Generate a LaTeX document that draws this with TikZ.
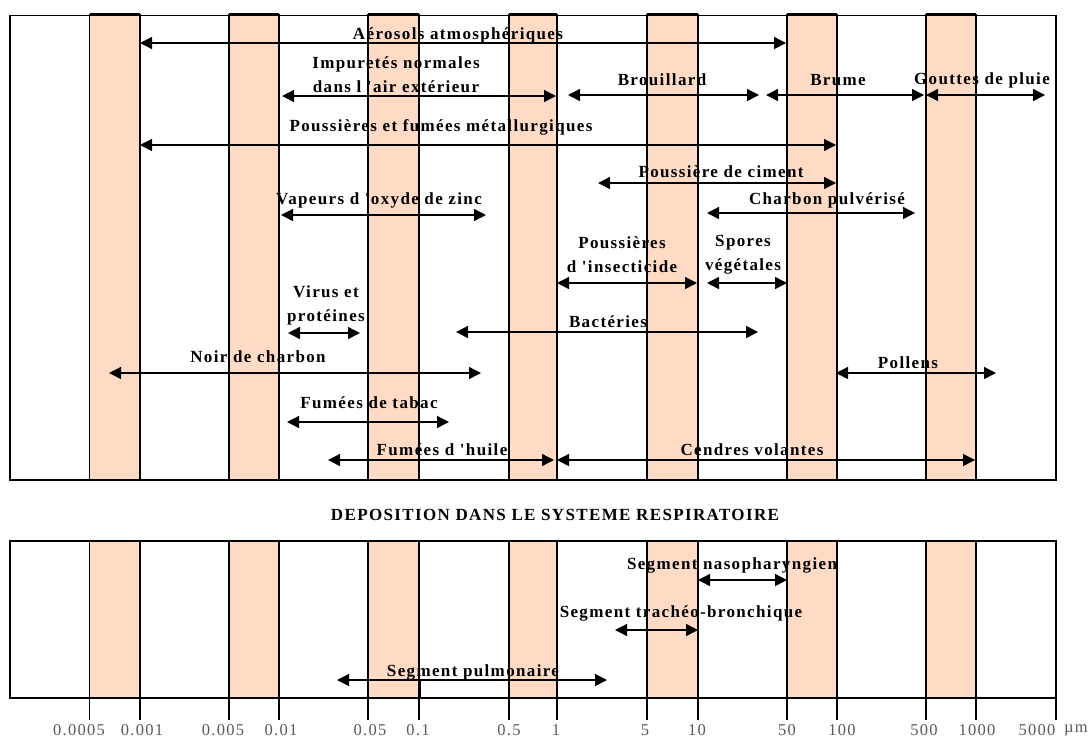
\documentclass[tikz,border=0pt]{standalone}
\usepackage{fontspec}
\setmainfont{Liberation Serif}
\newfontfamily\labfont[LetterSpace=8]{Liberation Serif}
\usetikzlibrary{arrows.meta}
\definecolor{bande}{RGB}{255,219,198}
\tikzset{
	lab/.style={font=\labfont\bfseries\fontsize{17}{24}\selectfont, inner sep=0pt, align=center},
	echelle/.style={font=\labfont\fontsize{16.5}{19}\selectfont, text=black!65, inner sep=0pt},
	fl/.style={<->, line width=1.4pt},
	bord/.style={line width=1.5pt},
	bandeb/.style={fill=bande, draw=black, line width=1.1pt},
	barre/.style={line width=3pt},
	tic/.style={line width=1.1pt}
}
\begin{document}
\begin{tikzpicture}[x=1pt,y=-1pt,>={Triangle[length=12pt,width=12pt]}]
	\useasboundingbox (0,0) rectangle (1091,740);
		% bandes du haut
		\draw[bandeb] (89.5,15) rectangle (140,480);
		\draw[bandeb] (229,15) rectangle (279,480);
		\draw[bandeb] (368,15) rectangle (419,480);
		\draw[bandeb] (509,15) rectangle (557,480);
		\draw[bandeb] (647,15) rectangle (698,480);
		\draw[bandeb] (787,15) rectangle (837,480);
		\draw[bandeb] (926,15) rectangle (976,480);
		\draw[bord] (10,15.5) rectangle (1056,480);
		\draw[barre] (89.5,14) -- (140,14);
		\draw[barre] (229,14) -- (279,14);
		\draw[barre] (368,14) -- (419,14);
		\draw[barre] (509,14) -- (557,14);
		\draw[barre] (647,14) -- (698,14);
		\draw[barre] (787,14) -- (837,14);
		\draw[barre] (926,14) -- (976,14);
		% bandes du bas
		\draw[bandeb] (89.5,541) rectangle (140,698);
		\draw[bandeb] (229,541) rectangle (279,698);
		\draw[bandeb] (368,541) rectangle (419,698);
		\draw[bandeb] (509,541) rectangle (557,698);
		\draw[bandeb] (647,541) rectangle (698,698);
		\draw[bandeb] (787,541) rectangle (837,698);
		\draw[bandeb] (926,541) rectangle (976,698);
		\draw[bord] (10,541) rectangle (1056,698);
		\draw[tic] (89.5,698) -- (89.5,720);
		\draw[tic] (140,698) -- (140,720);
		\draw[tic] (229,698) -- (229,720);
		\draw[tic] (279,698) -- (279,720);
		\draw[tic] (368,698) -- (368,720);
		\draw[tic] (419,698) -- (419,720);
		\draw[tic] (509,698) -- (509,720);
		\draw[tic] (557,698) -- (557,720);
		\draw[tic] (647,698) -- (647,720);
		\draw[tic] (698,698) -- (698,720);
		\draw[tic] (787,698) -- (787,720);
		\draw[tic] (837,698) -- (837,720);
		\draw[tic] (926,698) -- (926,720);
		\draw[tic] (976,698) -- (976,720);
		\draw[tic] (1056,698) -- (1056,720);
		\draw[barre] (419,679) -- (419,698);

		\node[lab] (aero) at (458,35) {Aérosols atmosphériques};
		\node[lab] (impur) at (396,75) {Impuretés normales\\dans l 'air extérieur};
		\node[lab] (brouil) at (662,80) {Brouillard};
		\node[lab] (brume) at (838,80) {Brume};
		\node[lab] (gouttes) at (982,80) {Gouttes de pluie};
		\node[lab] (metal) at (441,127) {Poussières et fumées métallurgiques};
		\node[lab] (ciment) at (721,172) {Poussière de ciment};
		\node[lab] (zinc) at (379,200) {Vapeurs d 'oxyde de zinc};
		\node[lab] (charbon) at (827,200) {Charbon pulvérisé};
		\node[lab] (insect) at (622,255) {Poussières\\d 'insecticide};
		\node[lab] (spores) at (743,255) {Spores\\végétales};
		\node[lab] (virus) at (326,305) {Virus et\\protéines};
		\node[lab] (bact) at (608,322) {Bactéries};
		\node[lab] (noir) at (258,357) {Noir de charbon};
		\node[lab] (pollen) at (908,363) {Pollens};
		\node[lab] (tabac) at (369,403) {Fumées de tabac};
		\node[lab] (huile) at (442,450) {Fumées d 'huile};
		\node[lab] (cendres) at (752,450) {Cendres volantes};
		\node[lab] (titre) at (555,515) {DEPOSITION DANS LE SYSTEME RESPIRATOIRE};
		\node[lab] (naso) at (732,565) {Segment nasopharyngien};
		\node[lab] (trach) at (681,613) {Segment trachéo-bronchique};
		\node[lab] (pulm) at (473,672) {Segment pulmonaire};

		\coordinate (aeroG) at (140,43);
		\coordinate (aeroD) at (786,43);
		\coordinate (impurG) at (282,96);
		\coordinate (impurD) at (556,96);
		\coordinate (brouilG) at (568,95);
		\coordinate (brouilD) at (759,95);
		\coordinate (brumeG) at (766,95);
		\coordinate (brumeD) at (924,95);
		\coordinate (gouttesG) at (926,95);
		\coordinate (gouttesD) at (1045,95);
		\coordinate (metalG) at (140,145);
		\coordinate (metalD) at (836,145);
		\coordinate (cimentG) at (598,183);
		\coordinate (cimentD) at (836,183);
		\coordinate (zincG) at (281,215);
		\coordinate (zincD) at (486,215);
		\coordinate (charbonG) at (707,213);
		\coordinate (charbonD) at (915,213);
		\coordinate (insectG) at (557,283);
		\coordinate (insectD) at (697,283);
		\coordinate (sporesG) at (707,283);
		\coordinate (sporesD) at (787,283);
		\coordinate (virusG) at (288,333);
		\coordinate (virusD) at (360,333);
		\coordinate (bactG) at (456,332);
		\coordinate (bactD) at (758,332);
		\coordinate (noirG) at (109,373);
		\coordinate (noirD) at (481,373);
		\coordinate (pollenG) at (836,373);
		\coordinate (pollenD) at (996,373);
		\coordinate (tabacG) at (287,422);
		\coordinate (tabacD) at (449,422);
		\coordinate (huileG) at (328,460);
		\coordinate (huileD) at (554,460);
		\coordinate (cendresG) at (557,460);
		\coordinate (cendresD) at (975,460);
		\coordinate (nasoG) at (698,580);
		\coordinate (nasoD) at (787,580);
		\coordinate (trachG) at (615,630);
		\coordinate (trachD) at (698,630);
		\coordinate (pulmG) at (337,680);
		\coordinate (pulmD) at (607,680);

		\path[fl] (aeroG) edge (aeroD);
		\path[fl] (impurG) edge (impurD);
		\path[fl] (brouilG) edge (brouilD);
		\path[fl] (brumeG) edge (brumeD);
		\path[fl] (gouttesG) edge (gouttesD);
		\path[fl] (metalG) edge (metalD);
		\path[fl] (cimentG) edge (cimentD);
		\path[fl] (zincG) edge (zincD);
		\path[fl] (charbonG) edge (charbonD);
		\path[fl] (insectG) edge (insectD);
		\path[fl] (sporesG) edge (sporesD);
		\path[fl] (virusG) edge (virusD);
		\path[fl] (bactG) edge (bactD);
		\path[fl] (noirG) edge (noirD);
		\path[fl] (pollenG) edge (pollenD);
		\path[fl] (tabacG) edge (tabacD);
		\path[fl] (huileG) edge (huileD);
		\path[fl] (cendresG) edge (cendresD);
		\path[fl] (nasoG) edge (nasoD);
		\path[fl] (trachG) edge (trachD);
		\path[fl] (pulmG) edge (pulmD);

		\node[echelle] (e1) at (79,730) {0.0005};
		\node[echelle] (e2) at (142,730) {0.001};
		\node[echelle] (e3) at (223,730) {0.005};
		\node[echelle] (e4) at (281,730) {0.01};
		\node[echelle] (e5) at (370,730) {0.05};
		\node[echelle] (e6) at (418,730) {0.1};
		\node[echelle] (e7) at (509,730) {0.5};
		\node[echelle] (e8) at (556,730) {1};
		\node[echelle] (e9) at (645,730) {5};
		\node[echelle] (e10) at (697,730) {10};
		\node[echelle] (e11) at (787,730) {50};
		\node[echelle] (e12) at (842,730) {100};
		\node[echelle] (e13) at (924,730) {500};
		\node[echelle] (e14) at (977,730) {1000};
		\node[echelle] (e15) at (1037,730) {5000};
		\node[echelle] (unite) at (1076,730) {µm};
	\end{tikzpicture}
\end{document}
